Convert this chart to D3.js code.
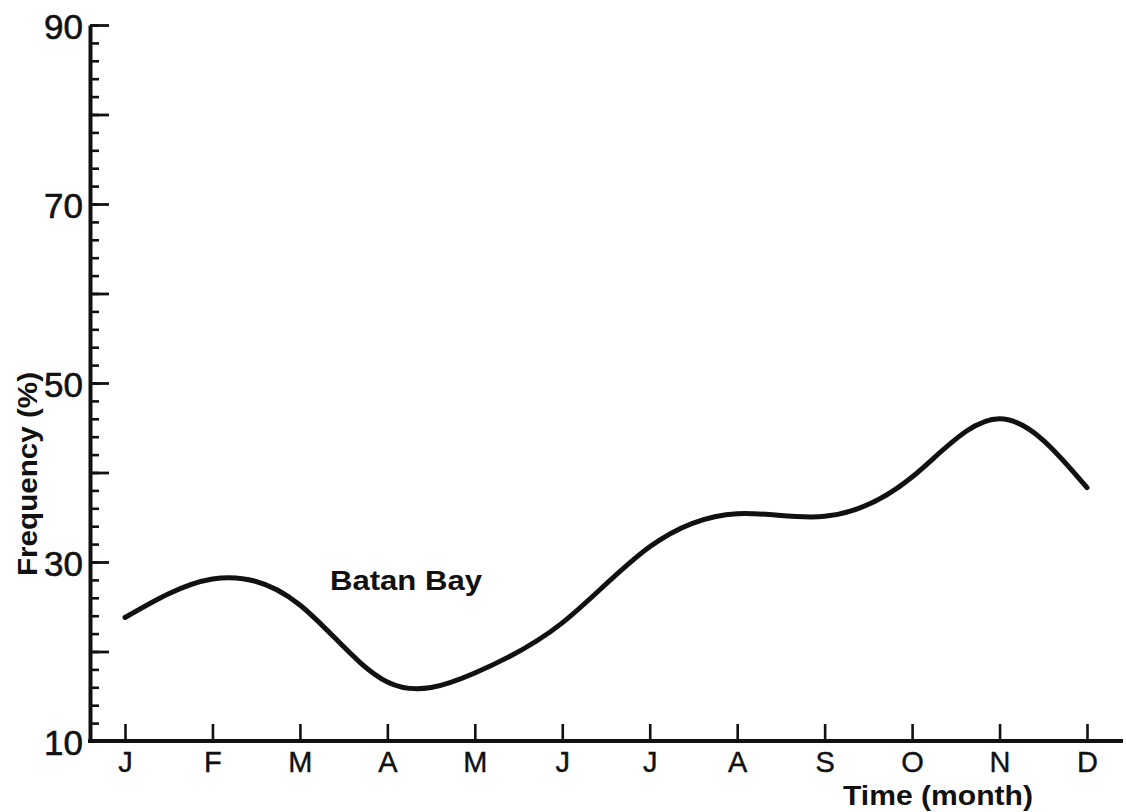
<!DOCTYPE html>
<html>
<head>
<meta charset="utf-8">
<script src="https://cdn.jsdelivr.net/npm/d3@7"></script>
<style>
  html, body { margin: 0; padding: 0; background: #fff; }
  svg { display: block; }
  text { font-family: "Liberation Sans", Arial, Helvetica, sans-serif; fill: #111; }
</style>
</head>
<body>
<svg id="chart" width="1126" height="812"></svg>
<script>
// Monthly frequency (%) at Batan Bay
const monthLabels = ["J", "F", "M", "A", "M", "J", "J", "A", "S", "O", "N", "D"];
const frequency = [23.8, 28.1, 25.2, 16.6, 17.6, 23.2, 31.7, 35.4, 35.1, 39.5, 46.0, 38.3];
const yMajorTicks = [10, 20, 30, 40, 50, 60, 70, 80, 90];
const yLabelledTicks = [10, 30, 50, 70, 90];
const yMinorTicks = d3.range(10, 91, 2);

const ink = "#111";
const svg = d3.select("#chart");

const x = d3.scaleLinear().domain([0, monthLabels.length - 1]).range([125, 1087]);
const y = d3.scaleLinear().domain([10, 90]).range([741, 25]);
const axisX = 90, axisRight = 1123;

// minor y ticks
svg.append("g")
  .attr("transform", `translate(${axisX},0)`)
  .call(d3.axisLeft(y).tickValues(yMinorTicks).tickSize(-9).tickFormat(""))
  .call(g => g.select(".domain").remove())
  .call(g => g.selectAll(".tick line").attr("stroke", ink).attr("stroke-width", 2.6));

// major y ticks with labels
svg.append("g")
  .attr("transform", `translate(${axisX},0)`)
  .call(d3.axisLeft(y).tickValues(yMajorTicks).tickSizeInner(-19).tickSizeOuter(0).tickPadding(7)
    .tickFormat(d => yLabelledTicks.includes(d) ? d : ""))
  .call(g => g.select(".domain").attr("stroke", ink).attr("stroke-width", 4))
  .call(g => g.selectAll(".tick line").attr("stroke", ink).attr("stroke-width", 2.8))
  .call(g => g.selectAll(".tick text")
    .attr("font-size", 35).attr("font-family", "'Liberation Sans', Arial, sans-serif")
    .attr("stroke", ink).attr("stroke-width", 0.6)
    .attr("fill", ink).attr("x", -7).attr("dy", "0.38em"));

// x axis: ticks pointing up, month initials below
svg.append("line")
  .attr("x1", axisX - 2).attr("x2", axisRight)
  .attr("y1", y(10)).attr("y2", y(10))
  .attr("stroke", ink).attr("stroke-width", 4);

svg.append("g")
  .attr("transform", `translate(0,${y(10)})`)
  .call(d3.axisBottom(x).tickValues(d3.range(monthLabels.length)).tickSizeInner(-17).tickSizeOuter(0)
    .tickPadding(10).tickFormat(i => monthLabels[i]))
  .call(g => g.select(".domain").remove())
  .call(g => g.selectAll(".tick line").attr("stroke", ink).attr("stroke-width", 2.6))
  .call(g => g.selectAll(".tick text")
    .attr("font-size", 29).attr("font-family", "'Liberation Sans', Arial, sans-serif")
    .attr("stroke", ink).attr("stroke-width", 0.4)
    .attr("fill", ink).attr("dy", "0.71em"));

// curve
const line = d3.line()
  .x((d, i) => x(i))
  .y(d => y(d))
  .curve(d3.curveNatural);

svg.append("path")
  .datum(frequency)
  .attr("d", line)
  .attr("fill", "none")
  .attr("stroke", ink)
  .attr("stroke-width", 5)
  .attr("stroke-linecap", "round");

// labels
svg.append("text")
  .attr("x", 330).attr("y", 590)
  .attr("font-size", 28).attr("font-weight", "bold")
  .attr("textLength", 152).attr("lengthAdjust", "spacingAndGlyphs")
  .text("Batan Bay");

svg.append("text")
  .attr("transform", "translate(37,474) rotate(-90)")
  .attr("text-anchor", "middle")
  .attr("font-size", 27).attr("font-weight", "bold")
  .attr("textLength", 204).attr("lengthAdjust", "spacingAndGlyphs")
  .text("Frequency (%)");

svg.append("text")
  .attr("x", 843).attr("y", 805)
  .attr("font-size", 28).attr("font-weight", "bold")
  .attr("textLength", 190).attr("lengthAdjust", "spacingAndGlyphs")
  .text("Time (month)");
</script>
</body>
</html>
